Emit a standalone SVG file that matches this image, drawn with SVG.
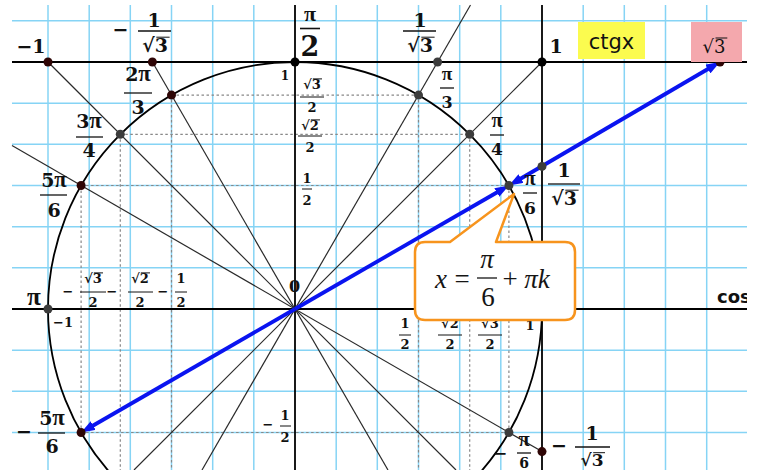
<svg xmlns="http://www.w3.org/2000/svg" width="762" height="470" viewBox="0 0 762 470">
<defs>
<style>
.grid line{stroke:#86d4f5;stroke-width:1.5}
.ax{stroke:#000;stroke-width:1.8;fill:none}
.ray{stroke:#2a2a2a;stroke-width:1.2}
.dot{stroke:#888;stroke-width:1.2;stroke-dasharray:2.5 2.5}
.blue{stroke:#0a14f0;stroke-width:3.8;fill:none}
.t{font-family:"DejaVu Serif","Liberation Serif",serif;font-weight:bold;fill:#111;text-anchor:middle}
.p{font-family:"Liberation Serif","DejaVu Serif",serif;font-size:1.2em}
.L{font-size:19px}
.S{font-size:13px}
.fb{stroke:#111;stroke-width:1.3}
.fs{stroke:#111;stroke-width:1}
.pm{fill:#2e0505}
.pg{fill:#3c3c3c}
.pk{fill:#000}
.ci{font-family:"Liberation Serif","DejaVu Serif",serif;font-size:27px;fill:#151515;text-anchor:middle}
</style>
<marker id="ah" viewBox="0 0 14 10" refX="6" refY="5" markerWidth="14" markerHeight="10" markerUnits="userSpaceOnUse" orient="auto-start-reverse"><path d="M0,0 L14,5 L0,10 z" fill="#0a14f0"/></marker>
<clipPath id="clipR"><rect x="0" y="0" width="747" height="470"/></clipPath>
</defs>

<g id="grid" class="grid">
<line x1="48" y1="5" x2="48" y2="470"/><line x1="89.2" y1="5" x2="89.2" y2="470"/><line x1="130.3" y1="5" x2="130.3" y2="470"/><line x1="171.5" y1="5" x2="171.5" y2="470"/><line x1="212.7" y1="5" x2="212.7" y2="470"/><line x1="253.8" y1="5" x2="253.8" y2="470"/><line x1="336.2" y1="5" x2="336.2" y2="470"/><line x1="377.3" y1="5" x2="377.3" y2="470"/><line x1="418.5" y1="5" x2="418.5" y2="470"/><line x1="459.7" y1="5" x2="459.7" y2="470"/><line x1="500.8" y1="5" x2="500.8" y2="470"/><line x1="583.2" y1="5" x2="583.2" y2="470"/><line x1="624.3" y1="5" x2="624.3" y2="470"/><line x1="665.5" y1="5" x2="665.5" y2="470"/><line x1="706.7" y1="5" x2="706.7" y2="470"/>
<line x1="12" y1="20.8" x2="747" y2="20.8"/><line x1="12" y1="103.2" x2="747" y2="103.2"/><line x1="12" y1="144.3" x2="747" y2="144.3"/><line x1="12" y1="185.5" x2="747" y2="185.5"/><line x1="12" y1="226.7" x2="747" y2="226.7"/><line x1="12" y1="267.8" x2="747" y2="267.8"/><line x1="12" y1="350.2" x2="747" y2="350.2"/><line x1="12" y1="391.3" x2="747" y2="391.3"/><line x1="12" y1="432.5" x2="747" y2="432.5"/>
</g>

<g id="dotted">
<line class="dot" x1="171.5" y1="95.1" x2="418.5" y2="95.1"/>
<line class="dot" x1="120.3" y1="134.3" x2="469.7" y2="134.3"/>
<line class="dot" x1="81.1" y1="185.5" x2="508.9" y2="185.5"/>
<line class="dot" x1="81.1" y1="432.5" x2="508.9" y2="432.5"/>
<line class="dot" x1="81.1" y1="185.5" x2="81.1" y2="432.5"/>
<line class="dot" x1="120.3" y1="134.3" x2="120.3" y2="470"/>
<line class="dot" x1="171.5" y1="95.1" x2="171.5" y2="470"/>
<line class="dot" x1="418.5" y1="95.1" x2="418.5" y2="470"/>
<line class="dot" x1="469.7" y1="134.3" x2="469.7" y2="470"/>
<line class="dot" x1="508.9" y1="185.5" x2="508.9" y2="432.5"/>
</g>

<g id="axes">
<line class="ax" x1="12" y1="309" x2="747" y2="309"/>
<line class="ax" x1="295" y1="5" x2="295" y2="470"/>
<line class="ax" x1="12" y1="62" x2="747" y2="62"/>
<line class="ax" x1="542" y1="5" x2="542" y2="470"/>
<circle class="ax" cx="295" cy="309" r="247"/>
</g>

<g id="connectors">
<line class="ray" x1="48" y1="62" x2="456" y2="470"/>
<line class="ray" x1="152.4" y1="62" x2="388" y2="470"/>
<line class="ray" x1="470.5" y1="5" x2="202" y2="470"/>
<line class="ray" x1="542" y1="62" x2="134" y2="470"/>
<line class="ray" x1="12" y1="145.6" x2="542" y2="451.6"/>
<path class="blue" d="M295,309 L502,189.5" marker-end="url(#ah)"/>
<path class="blue" d="M295,309 L88,428.5" marker-end="url(#ah)"/>
<path class="blue" d="M713.1,66 L515.8,181.5" marker-start="url(#ah)" marker-end="url(#ah)"/>
</g>

<g id="points">
<circle class="pm" cx="48" cy="62" r="4.5"/>
<circle class="pm" cx="152.4" cy="62" r="4.5"/>
<circle class="pg" cx="437.6" cy="62" r="4.5"/>
<circle class="pk" cx="542" cy="62" r="4.5"/>
<circle class="pm" cx="720" cy="62" r="4.5"/>
<circle class="pk" cx="295" cy="62" r="4.5"/>
<circle class="pm" cx="171.5" cy="95.1" r="4.5"/>
<circle class="pg" cx="120.3" cy="134.3" r="4.5"/>
<circle class="pm" cx="81.1" cy="185.5" r="4.5"/>
<circle class="pg" cx="418.5" cy="95.1" r="4.5"/>
<circle class="pg" cx="469.7" cy="134.3" r="4.5"/>
<circle class="pg" cx="508.9" cy="185.5" r="4.5"/>
<circle class="pg" cx="542" cy="166.4" r="4.5"/>
<circle class="pg" cx="48" cy="309" r="4.5"/>
<circle class="pm" cx="81.1" cy="432.5" r="4.5"/>
<circle class="pg" cx="508.9" cy="432.5" r="4.5"/>
<circle class="pm" cx="542" cy="451.6" r="4.5"/>
</g>

<g id="labels">
<!-- top -1 -->
<text class="t L" x="31" y="53">−1</text>
<!-- -1/sqrt3 top -->
<text class="t L" x="120.5" y="36">−</text>
<text class="t L" x="154" y="27">1</text><line class="fb" x1="138" y1="31" x2="171" y2="31"/>
<text class="t L" x="155" y="52">√3</text><line class="fs" x1="156.3" y1="37.2" x2="169.6" y2="37.2"/>
<!-- pi/2 -->
<text class="t" style="font-family:'Liberation Serif','DejaVu Serif',serif;font-size:22px" x="310" y="21">π</text><line class="fb" style="stroke-width:1.6" x1="300" y1="28.5" x2="320" y2="28.5"/>
<text class="t" style="font-size:27px" x="310" y="56">2</text>
<!-- 1/sqrt3 top right -->
<text class="t L" x="420" y="27">1</text><line class="fb" x1="403" y1="31" x2="436" y2="31"/>
<text class="t L" x="420" y="52">√3</text><line class="fs" x1="421.3" y1="37.2" x2="434.6" y2="37.2"/>
<!-- 1 -->
<text class="t L" x="556" y="53">1</text>
<!-- ctgx -->
<rect x="578" y="22" width="67" height="37" fill="#fbfb4f"/>
<text x="611.5" y="49" style="font-family:'DejaVu Sans',sans-serif;font-size:21px;fill:#111;text-anchor:middle">ctgx</text>
<!-- sqrt3 box -->
<rect x="691" y="22" width="51" height="40" fill="#f4a8ad"/>
<text x="714" y="53" style="font-family:'DejaVu Serif','Liberation Serif',serif;font-size:18px;fill:#111;text-anchor:middle">√3</text><line class="fs" x1="715.5" y1="38" x2="727.3" y2="38"/>
<!-- 2pi/3 -->
<text class="t L" x="138" y="81">2<tspan class="p">π</tspan></text><line class="fb" x1="124" y1="93" x2="152" y2="93"/><text class="t L" x="138" y="114">3</text>
<!-- 3pi/4 -->
<text class="t L" x="89" y="128">3<tspan class="p">π</tspan></text><line class="fb" x1="76" y1="137" x2="103" y2="137"/><text class="t L" x="89" y="157">4</text>
<!-- 5pi/6 -->
<text class="t L" x="54" y="187">5<tspan class="p">π</tspan></text><line class="fb" x1="40" y1="195" x2="67" y2="195"/><text class="t L" x="54" y="217">6</text>
<!-- pi/3 -->
<text class="t" style="font-size:16px" x="447" y="80"><tspan class="p">π</tspan></text><line class="fb" x1="440" y1="88" x2="454" y2="88"/><text class="t" style="font-size:16px" x="447" y="108">3</text>
<!-- pi/4 -->
<text class="t" style="font-size:17px" x="497" y="127"><tspan class="p">π</tspan></text><line class="fb" x1="490" y1="135" x2="504" y2="135"/><text class="t" style="font-size:17px" x="497" y="155">4</text>
<!-- pi/6 -->
<text class="t" style="font-size:17px" x="530" y="185"><tspan class="p">π</tspan></text><line class="fb" x1="523" y1="193" x2="537" y2="193"/><text class="t" style="font-size:17px" x="530" y="214">6</text>
<!-- 1/sqrt3 right -->
<text class="t L" x="564" y="177">1</text><line class="fb" x1="548" y1="184" x2="580" y2="184"/>
<text class="t L" x="564" y="205">√3</text><line class="fs" x1="565.3" y1="190.2" x2="578.6" y2="190.2"/>
<!-- y axis small labels -->
<text class="t" style="font-size:12px" x="285" y="80">1</text>
<text class="t S" x="312" y="89">√3</text><line class="fs" x1="312.9" y1="78.9" x2="322" y2="78.9"/><line class="fs" x1="300" y1="97" x2="324" y2="97"/><text class="t S" x="312" y="112">2</text>
<text class="t S" x="310" y="130">√2</text><line class="fs" x1="310.9" y1="119.9" x2="320" y2="119.9"/><line class="fs" x1="298" y1="136" x2="322" y2="136"/><text class="t S" x="310" y="152">2</text>
<text class="t S" x="307" y="183">1</text><line class="fs" x1="302" y1="189" x2="312" y2="189"/><text class="t S" x="307" y="205">2</text>
<!-- origin -->
<text class="t" style="font-size:16px" x="294.5" y="292">0</text>
<!-- pi left -->
<text class="t" style="font-size:21px" x="34" y="305"><tspan class="p">π</tspan></text>
<text class="t S" x="63" y="327">−1</text>
<!-- negative row -->
<text class="t S" x="68" y="296">−</text>
<text class="t S" x="93" y="283">√3</text><line class="fs" x1="93.9" y1="272.9" x2="103" y2="272.9"/><line class="fs" x1="80" y1="292" x2="106" y2="292"/><text class="t S" x="93" y="307">2</text>
<text class="t S" x="112" y="296">−</text>
<text class="t S" x="140" y="283">√2</text><line class="fs" x1="140.9" y1="272.9" x2="150" y2="272.9"/><line class="fs" x1="128" y1="292" x2="153" y2="292"/><text class="t S" x="140" y="307">2</text>
<text class="t S" x="163" y="296">−</text>
<text class="t S" x="181" y="283">1</text><line class="fs" x1="175" y1="292" x2="187" y2="292"/><text class="t S" x="181" y="307">2</text>
<!-- positive row -->
<text class="t S" x="405" y="328">1</text><line class="fs" x1="399" y1="335" x2="411" y2="335"/><text class="t S" x="405" y="349">2</text>
<text class="t S" x="450" y="328">√2</text><line class="fs" x1="438" y1="335" x2="462" y2="335"/><text class="t S" x="450" y="349">2</text>
<text class="t S" x="490" y="328">√3</text><line class="fs" x1="478" y1="335" x2="502" y2="335"/><text class="t S" x="490" y="349">2</text>
<text class="t S" x="530" y="330">1</text>
<!-- -1/2 -->
<text class="t S" x="268" y="429">−</text>
<text class="t S" x="285" y="420">1</text><line class="fs" x1="280" y1="426" x2="291" y2="426"/><text class="t S" x="285" y="442">2</text>
<!-- -5pi/6 -->
<text class="t L" x="24" y="438">−</text>
<text class="t L" x="52" y="425">5<tspan class="p">π</tspan></text><line class="fb" x1="38" y1="433" x2="65" y2="433"/><text class="t L" x="52" y="453">6</text>
<!-- -pi/6 -->
<text class="t" style="font-size:17px" x="500" y="459">−</text>
<text class="t" style="font-size:17px" x="524" y="446"><tspan class="p">π</tspan></text><line class="fb" x1="517" y1="453" x2="531" y2="453"/><text class="t" style="font-size:14px" x="524" y="468">6</text>
<!-- -1/sqrt3 -->
<text class="t L" x="559" y="452">−</text>
<text class="t L" x="592" y="440">1</text><line class="fb" x1="575" y1="447" x2="610" y2="447"/>
<text class="t" style="font-size:17px" x="592" y="466">√3</text><line class="fs" x1="593.2" y1="452.7" x2="605" y2="452.7"/>
<!-- cos -->
<text x="717" y="303" clip-path="url(#clipR)" style="font-family:'DejaVu Sans',sans-serif;font-weight:bold;font-size:18px;fill:#111">cos</text>
</g>

<g id="callout">
<path d="M425,242 H450 L514,194 L496,242 H565 Q575,242 575,252 V310 Q575,320 565,320 H425 Q415,320 415,310 V252 Q415,242 425,242 Z" fill="#fff" stroke="#f7941d" stroke-width="2.5" stroke-linejoin="round"/>
<text class="ci" x="441" y="288" font-style="italic">x</text>
<text class="ci" x="462" y="288">=</text>
<text class="ci" x="487" y="268" font-style="italic">π</text><line x1="477" y1="278" x2="497" y2="278" stroke="#151515" stroke-width="1.3"/>
<text class="ci" x="488" y="306">6</text>
<text class="ci" x="510" y="288">+</text>
<text class="ci" x="537" y="288" font-style="italic">πk</text>
</g>
</svg>
